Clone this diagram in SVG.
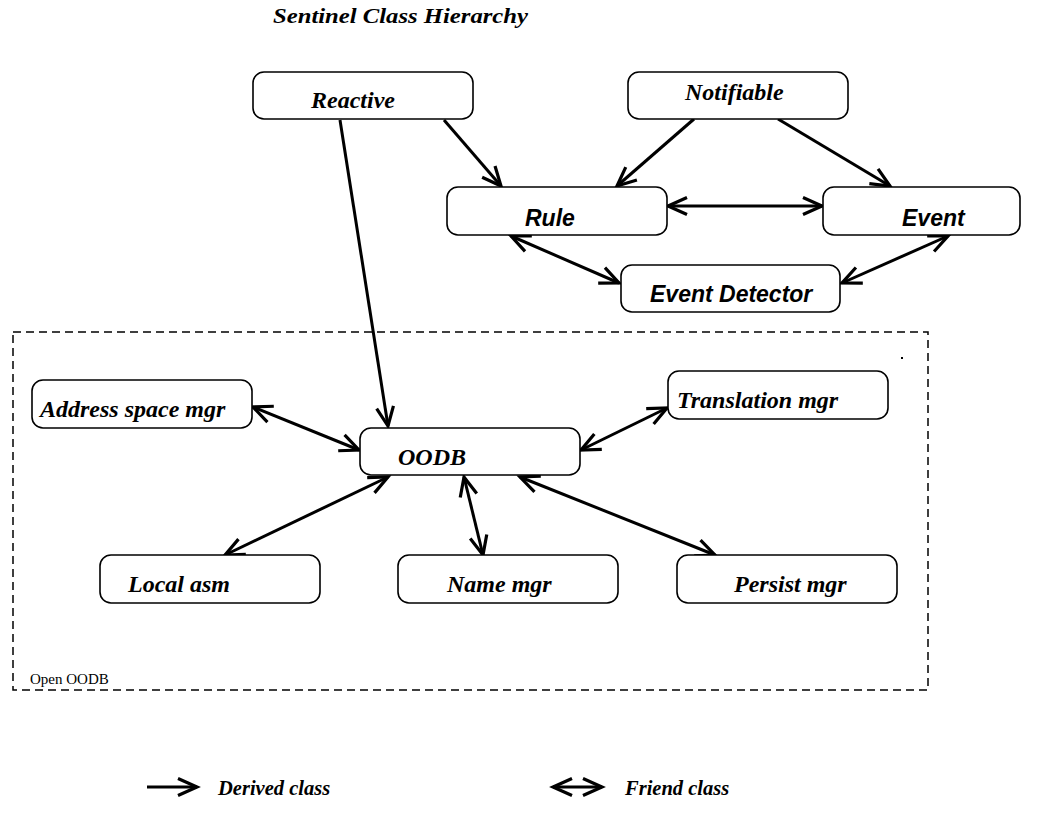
<svg xmlns="http://www.w3.org/2000/svg" width="1037" height="817" viewBox="0 0 1037 817">
<style>
.box{fill:#fff;stroke:#000;stroke-width:1.6}
.ser{font-family:"Liberation Serif",serif;font-weight:bold;font-style:italic;font-size:24px;fill:#000}
.san{font-family:"Liberation Sans",sans-serif;font-weight:bold;font-style:italic;font-size:23px;fill:#000}
.c{fill:none;stroke:#000;stroke-width:3}
.d{marker-end:url(#ah)}
.f{marker-start:url(#ah);marker-end:url(#ah)}
</style>
<defs>
<marker id="ah" markerUnits="userSpaceOnUse" viewBox="-22 -11 24 22" refX="0" refY="0" markerWidth="24" markerHeight="22" orient="auto-start-reverse" overflow="visible">
<path d="M-19,-8.5 L0,0 L-19,8.5" fill="none" stroke="#000" stroke-width="3.2"/>
</marker>
</defs>
<rect width="1037" height="817" fill="#fff"/>
<text class="ser" x="273" y="23" style="font-size:20px" textLength="255" lengthAdjust="spacingAndGlyphs">Sentinel Class Hierarchy</text>
<rect x="13" y="332" width="915" height="358" fill="none" stroke="#000" stroke-width="1.5" stroke-dasharray="8,5"/>
<rect x="901" y="357" width="2" height="2" fill="#000"/>
<text x="30" y="684" font-family="Liberation Serif, serif" font-size="15" fill="#000">Open OODB</text>
<g id="connectors">
<line class="c d" x1="444" y1="120" x2="501" y2="186"/>
<line class="c d" x1="340" y1="120" x2="388" y2="426" stroke-width="2.4"/>
<line class="c d" x1="694" y1="119" x2="617" y2="186"/>
<line class="c d" x1="778" y1="119" x2="890" y2="186"/>
<line class="c f" x1="668" y1="206" x2="822" y2="206"/>
<line class="c f" x1="511" y1="236" x2="619" y2="283"/>
<line class="c f" x1="948" y1="236" x2="842" y2="283"/>
<line class="c f" x1="253" y1="407" x2="359" y2="450"/>
<line class="c f" x1="667" y1="408" x2="581" y2="450"/>
<line class="c f" x1="388" y1="477" x2="225" y2="555"/>
<line class="c f" x1="464" y1="477" x2="483" y2="555"/>
<line class="c f" x1="520" y1="477" x2="715" y2="555"/>
</g>
<g id="reactive"><rect class="box" x="253" y="72" width="220" height="47" rx="11"/><text class="ser" x="311" y="108">Reactive</text></g>
<g id="notifiable"><rect class="box" x="628" y="72" width="220" height="47" rx="11"/><text class="ser" x="685" y="100">Notifiable</text></g>
<g id="rule"><rect class="box" x="447" y="187" width="220" height="48" rx="11"/><text class="san" x="525" y="226">Rule</text></g>
<g id="event"><rect class="box" x="823" y="187" width="197" height="48" rx="11"/><text class="san" x="902" y="226">Event</text></g>
<g id="event-detector"><rect class="box" x="621" y="265" width="219" height="47" rx="11"/><text class="san" x="650" y="302">Event Detector</text></g>
<g id="address-space-mgr"><rect class="box" x="32" y="380" width="220" height="48" rx="11"/><text class="ser" x="40" y="417">Address space mgr</text></g>
<g id="oodb"><rect class="box" x="360" y="428" width="220" height="47" rx="11"/><text class="ser" x="398" y="465">OODB</text></g>
<g id="translation-mgr"><rect class="box" x="668" y="371" width="220" height="48" rx="11"/><text class="ser" x="677" y="408">Translation mgr</text></g>
<g id="local-asm"><rect class="box" x="100" y="555" width="220" height="48" rx="11"/><text class="ser" x="128" y="592">Local asm</text></g>
<g id="name-mgr"><rect class="box" x="398" y="555" width="220" height="48" rx="11"/><text class="ser" x="447" y="592">Name mgr</text></g>
<g id="persist-mgr"><rect class="box" x="677" y="555" width="220" height="48" rx="11"/><text class="ser" x="734" y="592">Persist mgr</text></g>
<g id="legend">
<line class="c d" x1="147" y1="787" x2="197" y2="787"/>
<text class="ser" x="218" y="795" style="font-size:20.5px">Derived class</text>
<line class="c f" x1="553" y1="787" x2="602" y2="787"/>
<text class="ser" x="625" y="795" style="font-size:20.5px">Friend class</text>
</g>
</svg>
